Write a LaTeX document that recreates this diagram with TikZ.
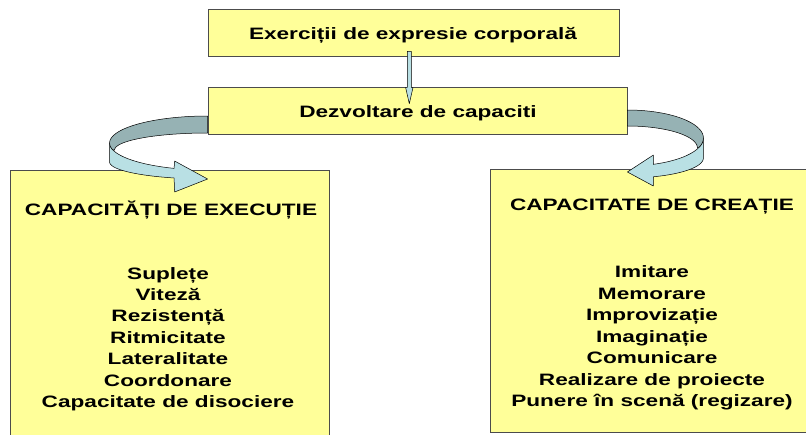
\documentclass[tikz,border=0pt]{standalone}
\usepackage{fontspec}
\newfontfamily\diagfont{Liberation Sans}[FakeStretch=1.37]
\usetikzlibrary{calc}
\definecolor{boxfill}{HTML}{FFFF99}
\definecolor{ribbondark}{HTML}{96B2B4}
\definecolor{ribbonlight}{HTML}{B9E0E4}
\tikzstyle{box}=[draw=black!70, line width=0.8pt, fill=boxfill, inner sep=0]
\tikzstyle{txt}=[font=\diagfont\bfseries\fontsize{16.5}{20}\selectfont, anchor=base, inner sep=0]
\tikzstyle{ribbon}=[draw=black, line width=0.5pt, line join=round]

\begin{document}
\begin{tikzpicture}[x=1pt, y=-1pt]
	\useasboundingbox (0,0) rectangle (806,434);
	\fill[white] (0,0) rectangle (806,434);

	% boxes
	\node[box, minimum width=411pt, minimum height=47pt] (ex) at (413.5,32.5) {};
	\node[box, minimum width=419pt, minimum height=47pt] (dz) at (417.5,110.5) {};
	\node[box, minimum width=319pt, minimum height=275pt] (exec) at (169.5,307.5) {};
	\node[box, minimum width=326pt, minimum height=263pt] (crea) at (653,300.5) {};

	\node[txt] (extxt) at (413,39.3) {Exerciții de expresie corporală};
	\node[txt] (dztxt) at (418,117.3) {Dezvoltare de capaciti};
	\node[txt] (exechead) at (171,215) {CAPACITĂȚI DE EXECUȚIE};
	\node[txt] (creahead) at (652,210.7) {CAPACITATE DE CREAȚIE};

	\foreach \txtline [count=\i from 0] in {Suplețe, Viteză, Rezistență, Ritmicitate, Lateralitate, Coordonare, Capacitate de disociere} {
		\node[txt] (exec\i) at (168,{279+21.45*\i}) {\txtline};
	};
	\foreach \txtline [count=\i from 0] in {Imitare, Memorare, Improvizație, Imaginație, Comunicare, Realizare de proiecte, Punere în scenă (regizare)} {
		\node[txt] (crea\i) at (652,{277.7+21.5*\i}) {\txtline};
	};

	% straight arrow
	\coordinate (va) at ($(ex.south)+(-4.2,-5)$);
	\begin{scope}[shift={(va)}]
		\draw[ribbon, fill=ribbonlight] (-2,0) -- (-2,36) -- (-3.7,36) -- (0,52.3) -- (3.7,36) -- (2,36) -- (2,0) -- cycle;
	\end{scope}

	% left turning arrow
	\coordinate (lc) at ($(dz.west)+(0,32.5)$);
	\begin{scope}[shift={(lc)}]
		\draw[ribbon, fill=ribbonlight] plot[domain=180:250, variable=\t, samples=30] ({98*cos(\t)}, {-27*sin(\t)})
			-- (-33,18) -- (0,36) -- (-33,49)
			-- plot[domain=250:180, variable=\t, samples=30] ({98*cos(\t)}, {19-17*sin(\t)}) -- cycle;
		\draw[ribbon, fill=ribbondark] plot[domain=90:195, variable=\t, samples=40] ({98*cos(\t)}, {-27*sin(\t)})
			-- plot[domain=180:90, variable=\t, samples=40] ({93*cos(\t)}, {7-17*sin(\t)}) -- cycle;
	\end{scope}

	% right turning arrow
	\coordinate (rc) at ($(dz.east)+(0,27.5)$);
	\begin{scope}[shift={(rc)}]
		\draw[ribbon, fill=ribbonlight] plot[domain=0:-70, variable=\t, samples=30] ({76*cos(\t)}, {-28*sin(\t)})
			-- (26,17) -- (0,34) -- (26,48)
			-- plot[domain=-70:0, variable=\t, samples=30] ({76*cos(\t)}, {20-20*sin(\t)}) -- cycle;
		\draw[ribbon, fill=ribbondark] plot[domain=90:-20, variable=\t, samples=40] ({76*cos(\t)}, {-28*sin(\t)})
			-- plot[domain=0:90, variable=\t, samples=40] ({70*cos(\t)}, {10-22*sin(\t)}) -- cycle;
	\end{scope}
\end{tikzpicture}
\end{document}
